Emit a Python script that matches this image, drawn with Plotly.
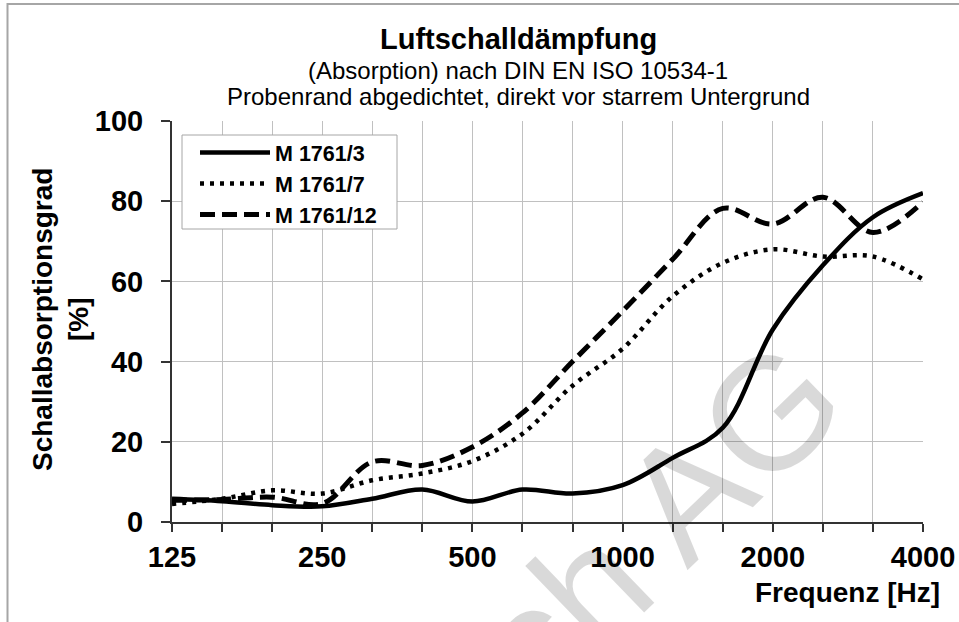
import plotly.graph_objects as go

# ---- data ----
freqs = ['125', '160', '200', '250', '315', '400', '500', '630', '800',
         '1000', '1250', '1600', '2000', '2500', '3150', '4000']
m_1761_3 = [5.8, 5.2, 4.2, 3.9, 5.8, 8.1, 5.1, 8.1, 7.1, 9.2, 16.0, 23.5, 48.0, 64.0, 76.0, 82.0]
m_1761_7 = [4.5, 5.8, 7.9, 7.1, 10.4, 12.1, 15.2, 22.0, 34.0, 43.2, 56.3, 64.6, 68.0, 66.2, 66.2, 60.5]
m_1761_12 = [5.4, 5.6, 6.2, 4.6, 15.0, 14.1, 18.7, 27.2, 40.0, 52.6, 65.5, 78.2, 74.3, 81.0, 72.2, 79.8]
series_names = ['M 1761/3', 'M 1761/7', 'M 1761/12']
tick_labels = ['125', '', '', '250', '', '', '500', '', '', '1000', '', '', '2000', '', '', '4000']
y_ticks = [0, 20, 40, 60, 80, 100]

FONT = 'Liberation Sans, Arial, sans-serif'

fig = go.Figure()
styles = [
    dict(color='black', width=4.5, dash='solid'),
    dict(color='black', width=4.5, dash='4px,6px'),
    dict(color='black', width=5, dash='15px,7px'),
]
for name, vals, st in zip(series_names, [m_1761_3, m_1761_7, m_1761_12], styles):
    fig.add_trace(go.Scatter(
        x=freqs, y=vals, name=name, mode='lines',
        line=dict(color=st['color'], width=st['width'], dash=st['dash'], shape='spline', smoothing=1.0),
    ))

L, R, T, B = 172, 36, 121, 100
W, H = 959, 622
pw, ph = W - L - R, H - T - B


def px(x):
    return (x - L) / pw


def py(y):
    return (H - B - y) / ph


fig.update_layout(
    width=W, height=H,
    margin=dict(l=L, r=R, t=T, b=B, pad=0, autoexpand=False),
    paper_bgcolor='white', plot_bgcolor='white',
    font=dict(family=FONT, color='black'),
    showlegend=True,
    legend=dict(
        x=px(195), y=py(132), xanchor='left', yanchor='top',
        bgcolor='rgba(0,0,0,0)', borderwidth=0,
        font=dict(family=FONT, size=21.5, color='black', weight='bold'),
        itemwidth=70, tracegroupgap=0,
    ),
    xaxis=dict(
        type='category', range=[0, 15], automargin=False,
        tickmode='array', tickvals=freqs, ticktext=tick_labels,
        showgrid=True, gridcolor='#c0c0c0', gridwidth=1,
        ticks='outside', ticklen=8, tickwidth=1.5, tickcolor='#333333',
        showline=True, linecolor='#333333', linewidth=2,
        tickfont=dict(family=FONT, size=29, color='black', weight='bold'),
        ticklabelstandoff=0, zeroline=False,
    ),
    yaxis=dict(
        range=[0, 100], tickmode='array', tickvals=y_ticks, automargin=False,
        showgrid=True, gridcolor='#c0c0c0', gridwidth=1,
        ticks='outside', ticklen=9, tickwidth=1.5, tickcolor='#333333',
        showline=True, linecolor='#333333', linewidth=2,
        tickfont=dict(family=FONT, size=29, color='black', weight='bold'),
        ticklabelstandoff=12, zeroline=False,
    ),
)

# outer chart frame
fig.add_shape(type='rect', xref='paper', yref='paper',
              x0=px(7.5), x1=px(975), y0=py(640), y1=py(4),
              line=dict(color='#a6a6a6', width=2), fillcolor='rgba(0,0,0,0)', layer='below')
# legend box
fig.add_shape(type='rect', xref='paper', yref='paper',
              x0=px(182), x1=px(397), y0=py(229), y1=py(135),
              line=dict(color='#a6a6a6', width=1), fillcolor='white', layer='above')

TX = px(518)
ann = []
ann.append(dict(text='Luftschalldämpfung', x=TX, y=py(39), xref='paper', yref='paper',
                showarrow=False, xanchor='center', yanchor='middle',
                font=dict(family=FONT, size=29, color='black', weight='bold')))
ann.append(dict(text='(Absorption) nach DIN EN ISO 10534-1', x=TX, y=py(70), xref='paper', yref='paper',
                showarrow=False, xanchor='center', yanchor='middle',
                font=dict(family=FONT, size=24, color='black')))
ann.append(dict(text='Probenrand abgedichtet, direkt vor starrem Untergrund', x=TX, y=py(97),
                xref='paper', yref='paper', showarrow=False, xanchor='center', yanchor='middle',
                font=dict(family=FONT, size=24, color='black')))
ann.append(dict(text='Schallabsorptionsgrad<br>[%]', x=px(60), y=py(320), xref='paper', yref='paper',
                showarrow=False, xanchor='center', yanchor='middle', textangle=-90,
                font=dict(family=FONT, size=28, color='black', weight='bold')))
ann.append(dict(text='Frequenz [Hz]', x=px(942), y=py(592), xref='paper', yref='paper',
                showarrow=False, xanchor='right', yanchor='middle',
                font=dict(family=FONT, size=28, color='black', weight='bold')))
# watermark
ann.append(dict(text='ch AG', x=px(658), y=py(521), xref='paper', yref='paper',
                showarrow=False, xanchor='center', yanchor='middle', textangle=-44,
                font=dict(family=FONT, size=160, color='rgba(0,0,0,0.15)')))
fig.update_layout(annotations=ann)

fig.write_html('out.html', config={'displayModeBar': False},
               post_script="document.body.style.margin='0px';")
